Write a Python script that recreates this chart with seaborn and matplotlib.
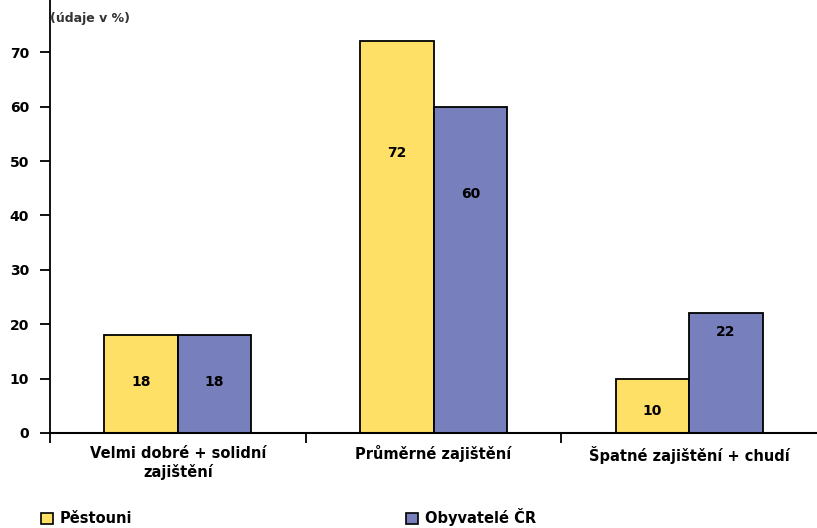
import matplotlib
matplotlib.use("Agg")
import matplotlib.pyplot as plt
import seaborn as sns
import pandas as pd
from matplotlib.patches import Patch

categories = ["Velmi dobré + solidní\nzajištění", "Průměrné zajištění", "Špatné zajištění + chudí"]
series_names = ["Pěstouni", "Obyvatelé ČR"]
pestouni = [18, 72, 10]
obyvatele = [18, 60, 22]
label_y = [[9.4, 51.5, 4.0], [9.4, 44.0, 18.6]]
yticks = [0, 10, 20, 30, 40, 50, 60, 70]
colors = ["#FFE066", "#7780BD"]

df = pd.DataFrame({
    "cat": categories * 2,
    "series": [series_names[0]] * 3 + [series_names[1]] * 3,
    "val": pestouni + obyvatele,
})

sns.set_style("white")
plt.rcParams["font.family"] = ["DejaVu Sans"]
plt.rcParams["text.color"] = "black"
plt.rcParams["xtick.color"] = "black"
plt.rcParams["ytick.color"] = "black"

fig = plt.figure(figsize=(8.17, 5.28), dpi=100)
ax = fig.add_axes([50 / 817, (528 - 433) / 528, 767 / 817, 433 / 528])

sns.barplot(data=df, x="cat", y="val", hue="series", order=categories,
            hue_order=series_names, palette=colors, width=0.575,
            edgecolor="black", linewidth=1.3, saturation=1, ax=ax, legend=False)

ax.set_xlim(-0.5, 2.5)
ax.set_ylim(0, 79.6)
ax.set_yticks(yticks)
ax.set_yticklabels([str(t) for t in yticks], fontsize=10, fontweight="bold", color="black")
ax.set_xlabel("")
ax.set_ylabel("")
ax.set_xticks(range(3))
ax.set_xticklabels(categories, fontsize=10.5, fontweight="bold", linespacing=1.25, color="black")
ax.tick_params(axis="x", which="major", length=0, pad=9)
ax.set_xticks([-0.5, 0.5, 1.5], minor=True)
ax.tick_params(axis="x", which="minor", length=7, width=1.3, direction="out", color="black", bottom=True)
ax.tick_params(axis="y", length=7, width=1.3, direction="out", color="black", left=True, pad=8)

for s in ["top", "right"]:
    ax.spines[s].set_visible(False)
ax.spines["left"].set_color("black")
ax.spines["left"].set_linewidth(1.3)
ax.spines["bottom"].set_color("black")
ax.spines["bottom"].set_linewidth(1.5)

# value labels
for ci, cont in enumerate(ax.containers):
    vals = pestouni if ci == 0 else obyvatele
    for bi, bar in enumerate(cont):
        x = bar.get_x() + bar.get_width() / 2
        ax.text(x, label_y[ci][bi], str(vals[bi]), ha="center", va="center",
                fontsize=10, fontweight="bold", color="black")

fig.text(50 / 817, 1 - 22 / 528, "(údaje v %)", fontsize=9, fontweight="bold",
         color="#333333", ha="left", va="baseline")

# legends
for name, col, xpos in zip(series_names, colors, [28 / 817, 393 / 817]):
    h = Patch(facecolor=col, edgecolor="black", linewidth=1.2)
    fig.legend([h], [name], loc="lower left", bbox_to_anchor=(xpos, -0.022),
               frameon=False, prop={"weight": "bold", "size": 10.5},
               handlelength=0.8, handleheight=0.8, handletextpad=0.5)

fig.savefig("out.png", dpi=100)
